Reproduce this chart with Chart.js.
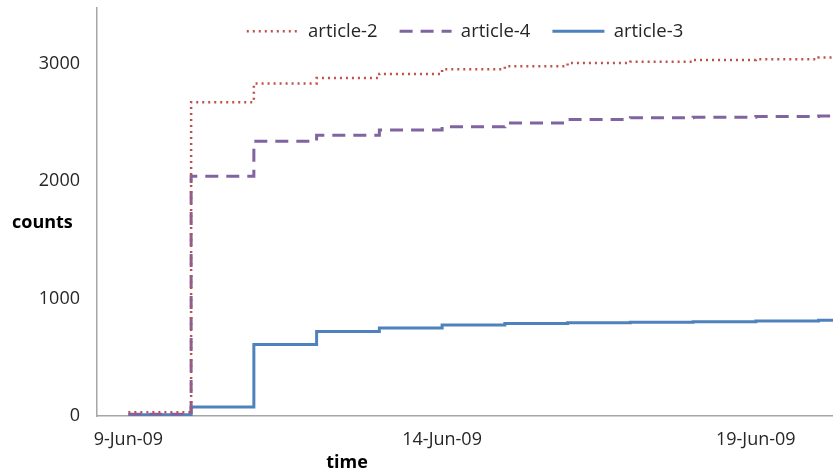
<!DOCTYPE html>
<html>
<head>
<meta charset="utf-8">
<script src="https://cdn.jsdelivr.net/npm/chart.js@4.4.1/dist/chart.umd.min.js"></script>
<style>
  html, body { margin: 0; padding: 0; background: #fff; }
  #wrap { width: 833px; height: 472px; }
</style>
</head>
<body>
<div id="wrap"><canvas id="chart"></canvas></div>
<script>
// days of June 2009, one step per day
const days = [9, 10, 11, 12, 13, 14, 15, 16, 17, 18, 19, 20];
const xEnd = 20.23;

const article2 = [31, 2674, 2833, 2881, 2915, 2955, 2980, 3009, 3020, 3034, 3040, 3055];
const article4 = [15, 2044, 2342, 2393, 2438, 2464, 2498, 2527, 2541, 2546, 2552, 2557];
const article3 = [10, 77, 610, 721, 749, 775, 789, 795, 800, 803, 809, 817];

const xTickDays = [9, 14, 19];
const yTicks = [0, 1000, 2000, 3000];

const FONT = "'Open Sans', 'Liberation Sans', sans-serif";

// points de la série + prolongement jusqu'au bord droit
function toPoints(values) {
  const pts = days.map((d, i) => ({ x: d, y: values[i] }));
  pts.push({ x: xEnd, y: values[values.length - 1] });
  return pts;
}

// légende dans la zone du graphique, sur une seule ligne
const legendRow = {
  id: 'legendRow',
  afterInit(chart) {
    if (chart.legend) chart.legend.isHorizontal = () => true;
  },
  afterLayout(chart) {
    const L = chart.legend;
    const area = chart.chartArea;
    if (!L) return;
    const h = L.height;
    L.left = area.left;
    L.right = area.right;
    L.top = 0;
    L.bottom = L.top + h;
  }
};

// titres des axes, écrits à l'horizontale comme dans Excel
const axisTitles = {
  id: 'axisTitles',
  afterDraw(chart) {
    const ctx = chart.ctx;
    const area = chart.chartArea;
    ctx.save();
    ctx.fillStyle = '#000';
    ctx.font = 'bold 18px ' + FONT;
    ctx.textBaseline = 'middle';
    ctx.textAlign = 'left';
    ctx.fillText('counts', 12, 223);
    ctx.textAlign = 'center';
    ctx.fillText('time', 347, area.bottom + 47);
    ctx.restore();
  }
};

new Chart(document.getElementById('chart'), {
  type: 'line',
  data: {
    datasets: [
      {
        label: 'article-2',
        data: toPoints(article2),
        borderColor: '#C0504D',
        borderWidth: 2.5,
        borderDash: [2, 4],
        stepped: 'before',
        pointRadius: 0,
        fill: false
      },
      {
        label: 'article-4',
        data: toPoints(article4),
        borderColor: '#8064A2',
        borderWidth: 3,
        borderDash: [13, 8],
        stepped: 'before',
        pointRadius: 0,
        fill: false
      },
      {
        label: 'article-3',
        data: toPoints(article3),
        borderColor: '#4F81BD',
        borderWidth: 3,
        stepped: 'before',
        pointRadius: 0,
        fill: false
      }
    ]
  },
  options: {
    responsive: true,
    maintainAspectRatio: false,
    animation: false,
    layout: { padding: { top: 8, left: 0, right: 0, bottom: 0 } },
    plugins: {
      tooltip: { enabled: false },
      legend: {
        position: 'chartArea',
        align: 'center',
        labels: {
          usePointStyle: true,
          pointStyle: 'line',
          pointStyleWidth: 52,
          padding: 22,
          color: '#262626',
          font: { family: FONT, size: 18.5 },
          generateLabels: chart => {
            const base = Chart.defaults.plugins.legend.labels.generateLabels(chart);
            return base.map(item => {
              const ds = chart.data.datasets[item.datasetIndex];
              item.lineDash = ds.borderDash || [];
              item.lineWidth = ds.borderWidth;
              item.strokeStyle = ds.borderColor;
              return item;
            });
          }
        }
      }
    },
    scales: {
      x: {
        type: 'linear',
        min: 8.5,
        max: xEnd,
        afterBuildTicks: s => { s.ticks = xTickDays.map(v => ({ value: v })); },
        afterFit: s => { s.height = 56; s.paddingLeft = 0; s.paddingRight = 0; },
        grid: { display: false, drawTicks: false },
        border: { color: '#A6A6A6', width: 1.5 },
        ticks: {
          padding: 13,
          maxRotation: 0,
          color: '#262626',
          font: { family: FONT, size: 18 },
          callback: v => v + '-Jun-09'
        }
      },
      y: {
        min: 0,
        max: 3477,
        afterBuildTicks: s => { s.ticks = yTicks.map(v => ({ value: v })); },
        afterFit: s => { s.width = 97; s.paddingTop = 0; s.paddingBottom = 0; },
        grid: { display: false, drawTicks: false },
        border: { color: '#A6A6A6', width: 1.5 },
        ticks: {
          padding: 17,
          color: '#262626',
          font: { family: FONT, size: 18 },
          callback: v => String(v)
        }
      }
    }
  },
  plugins: [legendRow, axisTitles]
});
</script>
</body>
</html>
